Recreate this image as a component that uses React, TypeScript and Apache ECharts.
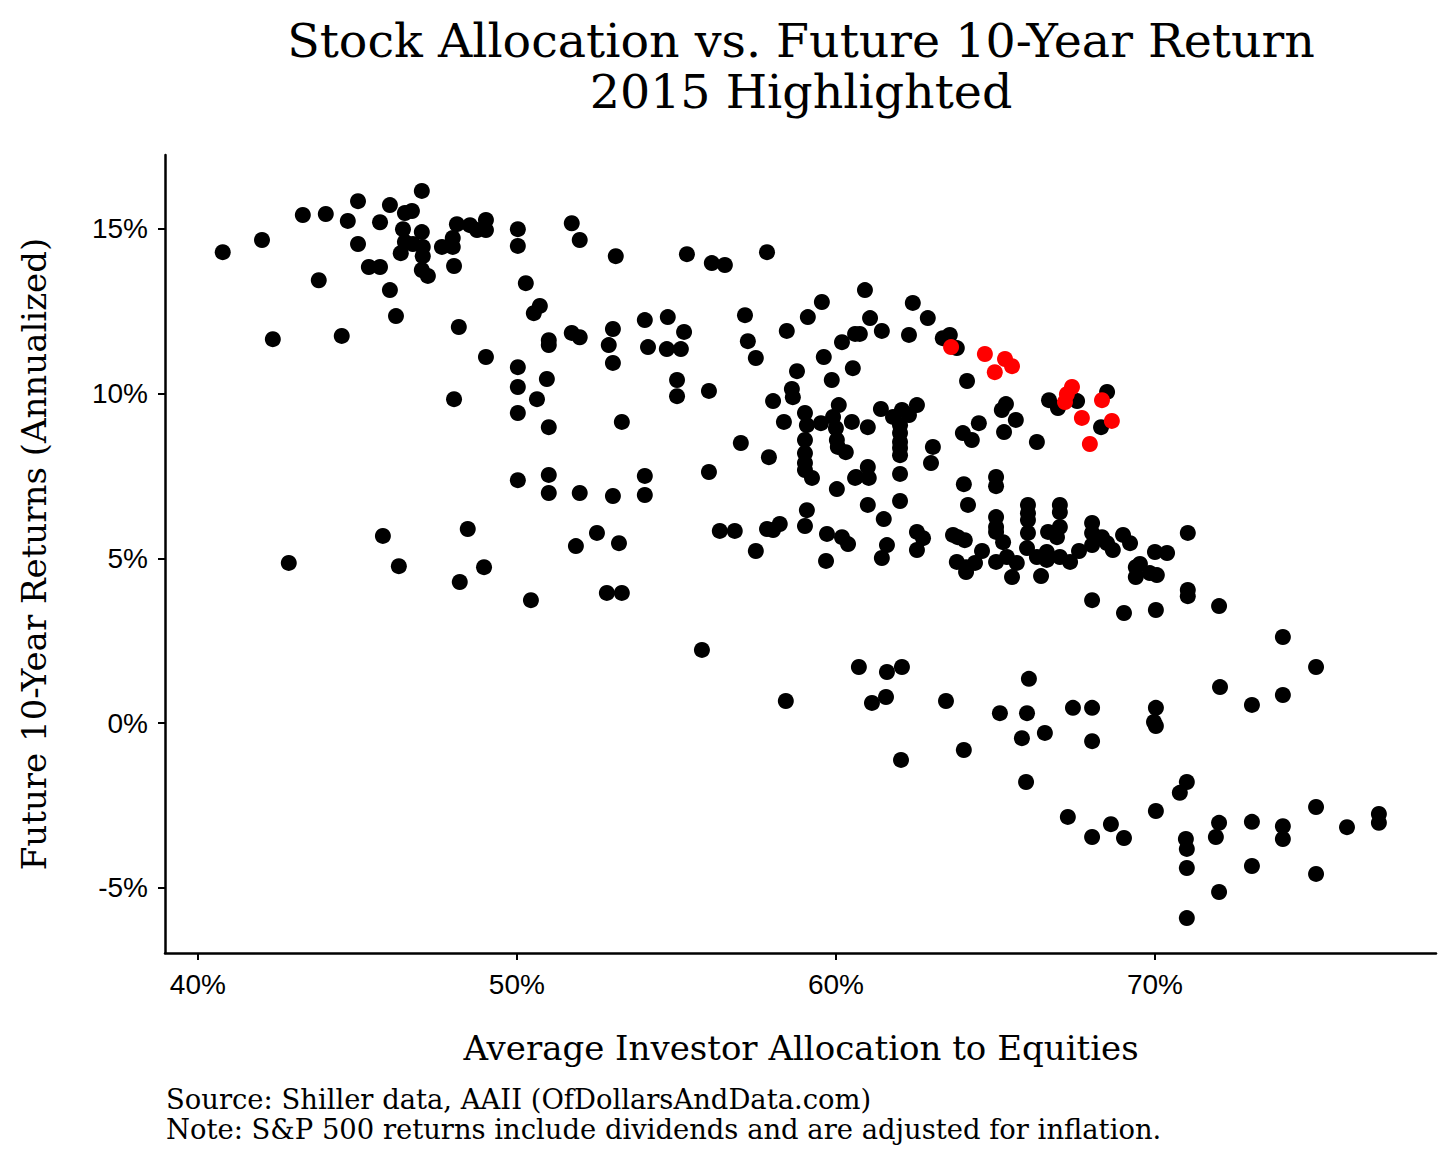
import React, { useEffect, useRef } from "react";
import * as echarts from "echarts";

const titleLines = ["Stock Allocation vs. Future 10-Year Return", "2015 Highlighted"];
const xAxisTitle = "Average Investor Allocation to Equities";
const yAxisTitle = "Future 10-Year Returns (Annualized)";
const captionLines = [
  "Source: Shiller data, AAII (OfDollarsAndData.com)",
  "Note: S&P 500 returns include dividends and are adjusted for inflation.",
];
const xTicks = [40, 50, 60, 70];
const yTicks = [-5, 0, 5, 10, 15];

// [allocation to equities %, future 10-year annualized return %]
const otherYears: [number, number][] = [
  [40.78, 14.29], [42.01, 14.66], [43.29, 15.42], [44.01, 15.45], [45.02, 15.84], [44.7, 15.24],
  [45.71, 15.2], [46.02, 15.72], [47.02, 16.15], [46.49, 15.48], [46.71, 15.54], [46.43, 14.99],
  [47.02, 14.9], [46.49, 14.6], [46.74, 14.54], [46.36, 14.26], [47.05, 14.45], [47.05, 14.17],
  [47.02, 13.75], [47.21, 13.57], [48.12, 15.14], [48.53, 15.11], [48.75, 14.96], [49.03, 15.27],
  [49.03, 14.96], [47.65, 14.45], [47.99, 14.72], [47.99, 14.45], [48.03, 13.87], [45.02, 14.54],
  [45.36, 13.84], [45.71, 13.84], [46.02, 13.14], [46.21, 12.35], [43.79, 13.44], [42.35, 11.65],
  [44.51, 11.75], [48.18, 12.02], [49.03, 11.11], [50.03, 14.99], [50.03, 14.48], [51.72, 15.17],
  [51.97, 14.66], [50.28, 13.35], [50.72, 12.66], [50.53, 12.44], [51.0, 11.62], [51.0, 11.47],
  [51.72, 11.84], [51.97, 11.71], [50.03, 10.8], [50.94, 10.44], [50.03, 10.2], [50.63, 9.83],
  [48.03, 9.83], [50.03, 9.41], [51.0, 8.98], [53.1, 14.17], [55.33, 14.23], [56.11, 13.96],
  [56.52, 13.9], [57.84, 14.29], [60.91, 13.14], [59.56, 12.78], [62.41, 12.75], [62.88, 12.29],
  [61.07, 12.29], [59.12, 12.32], [57.15, 12.38], [58.46, 11.9], [61.44, 11.9], [60.6, 11.81],
  [60.75, 11.81], [60.19, 11.56], [62.29, 11.78], [63.35, 11.68], [63.57, 11.78], [63.79, 11.38],
  [53.01, 11.96], [52.88, 11.47], [53.01, 10.93], [54.01, 12.23], [54.73, 12.32], [55.24, 11.87],
  [54.11, 11.41], [54.7, 11.35], [55.14, 11.35], [57.24, 11.59], [57.49, 11.08], [55.02, 10.41],
  [55.02, 9.92], [56.02, 10.08], [59.62, 11.11], [60.53, 10.77], [58.78, 10.68], [59.87, 10.41],
  [58.62, 10.14], [58.65, 9.89], [58.03, 9.77], [60.09, 9.65], [59.03, 9.41], [58.37, 9.14],
  [59.09, 9.04], [59.53, 9.1], [59.91, 9.29], [60.0, 8.95], [60.5, 9.14], [61.0, 8.98],
  [61.41, 9.53], [62.07, 9.5], [62.29, 9.35], [62.54, 9.65], [61.79, 9.29], [62.01, 9.04],
  [64.11, 10.38], [53.29, 9.14], [64.48, 9.1], [63.98, 8.8], [65.33, 9.68], [65.2, 9.5],
  [65.64, 9.2], [65.27, 8.83], [64.26, 8.59], [66.3, 8.53], [66.68, 9.8], [66.96, 9.56],
  [67.56, 9.77], [68.5, 10.05], [68.31, 8.98], [51.0, 7.53], [50.03, 7.37], [51.0, 6.98],
  [51.97, 6.98], [48.46, 5.89], [45.8, 5.68], [42.85, 4.86], [46.3, 4.76], [48.97, 4.73],
  [48.21, 4.28], [50.44, 3.73], [51.85, 5.37], [57.02, 8.5], [57.9, 8.07], [56.02, 7.62],
  [54.01, 7.5], [53.01, 6.89], [54.01, 6.92], [52.51, 5.77], [53.2, 5.46], [52.82, 3.95],
  [53.29, 3.95], [56.36, 5.83], [56.83, 5.83], [57.49, 5.22], [57.84, 5.89], [58.03, 5.86],
  [58.24, 6.04], [59.09, 6.46], [59.03, 5.98], [59.72, 5.74], [60.19, 5.64], [60.38, 5.43],
  [59.69, 4.92], [59.03, 8.59], [59.03, 8.19], [59.03, 7.89], [59.03, 7.68], [59.25, 7.44],
  [60.03, 8.59], [60.06, 8.38], [60.31, 8.22], [60.63, 7.47], [60.03, 7.1], [62.01, 8.8],
  [62.01, 8.53], [62.01, 8.35], [62.01, 8.13], [62.01, 7.56], [62.01, 6.74], [63.04, 8.38],
  [62.98, 7.89], [61.0, 7.77], [61.03, 7.44], [60.6, 7.44], [61.0, 6.62], [61.5, 6.19],
  [61.6, 5.4], [61.44, 5.01], [62.54, 5.8], [62.73, 5.61], [62.54, 5.25], [64.01, 7.25],
  [65.02, 7.47], [65.02, 7.19], [64.14, 6.62], [65.02, 6.25], [65.02, 5.95], [65.02, 5.8],
  [65.24, 5.49], [63.67, 5.71], [63.82, 5.64], [64.04, 5.55], [64.58, 5.22], [63.79, 4.89],
  [64.08, 4.73], [64.36, 4.86], [64.08, 4.58], [65.02, 4.89], [65.36, 5.04], [65.67, 4.86],
  [65.52, 4.43], [66.43, 4.46], [66.02, 6.62], [66.02, 6.37], [66.02, 6.16], [66.02, 5.77],
  [65.99, 5.31], [66.3, 5.04], [66.61, 4.95], [66.61, 5.19], [66.65, 5.8], [66.93, 5.64],
  [67.02, 5.95], [67.02, 6.62], [67.02, 6.4], [67.02, 5.04], [67.34, 4.89], [67.62, 5.22],
  [68.03, 6.07], [68.03, 5.77], [68.34, 5.64], [68.5, 5.46], [68.68, 5.25], [68.03, 5.4],
  [69.0, 5.71], [69.22, 5.46], [69.4, 4.73], [69.4, 4.43], [68.03, 3.73], [69.03, 3.34],
  [71.03, 5.77], [70.0, 5.19], [70.38, 5.16], [69.53, 4.83], [69.84, 4.55], [70.06, 4.49],
  [71.03, 4.04], [71.03, 3.85], [70.03, 3.43], [72.01, 3.55], [74.01, 2.61], [55.8, 2.22],
  [58.43, 0.67], [60.72, 1.7], [61.6, 1.55], [62.07, 1.7], [61.57, 0.79], [61.13, 0.61],
  [63.45, 0.67], [65.14, 0.3], [62.04, -1.12], [64.01, -0.82], [75.05, 1.7], [72.04, 1.09],
  [73.04, 0.55], [74.01, 0.85], [66.05, 1.34], [65.99, 0.3], [65.83, -0.46], [66.55, -0.3],
  [67.43, 0.46], [68.03, 0.46], [68.03, -0.55], [70.03, 0.46], [69.97, 0.03], [70.03, -0.09],
  [65.96, -1.79], [67.27, -2.85], [68.03, -3.46], [68.62, -3.07], [69.03, -3.49], [70.03, -2.67],
  [71.0, -1.79], [70.78, -2.12], [70.97, -3.52], [71.0, -3.82], [71.0, -4.4], [71.0, -5.92],
  [72.01, -3.03], [71.91, -3.46], [73.04, -3.0], [73.04, -4.34], [72.01, -5.13], [74.01, -3.13],
  [74.01, -3.52], [75.05, -2.55], [75.05, -4.58], [76.02, -3.16], [77.02, -2.76], [77.02, -3.03],
];

const year2015: [number, number][] = [
  [63.61, 11.41], [64.67, 11.2], [65.3, 11.05], [65.52, 10.83], [64.98, 10.65], [67.4, 10.2],
  [67.24, 9.98], [67.18, 9.74], [68.34, 9.8], [67.71, 9.26], [68.65, 9.17], [67.96, 8.47],
];

const SERIF = "'DejaVu Serif', 'Liberation Serif', serif";
const SANS = "'Liberation Sans', Arial, sans-serif";

function textEl(text: string, x: number, y: number, size: number, align: string, rotation = 0) {
  return {
    type: "text",
    x,
    y,
    rotation,
    style: {
      text,
      font: `${size}px ${SERIF}`,
      fill: "#000",
      align,
      verticalAlign: "middle",
      textAlign: align,
      textVerticalAlign: "middle",
    },
  };
}

export default function App() {
  const ref = useRef<HTMLDivElement>(null);

  useEffect(() => {
    if (!ref.current) return;
    const chart = echarts.init(ref.current, null, { renderer: "svg" });
    chart.setOption({
      animation: false,
      backgroundColor: "#ffffff",
      grid: { left: 165, top: 155, right: 20, bottom: 212, containLabel: false },
      graphic: [
        textEl(titleLines[0], 801, 40, 47.5, "center"),
        textEl(titleLines[1], 801, 91, 47.5, "center"),
        textEl(xAxisTitle, 801, 1048, 34, "center"),
        textEl(yAxisTitle, 34, 554, 34, "center", Math.PI / 2),
        textEl(captionLines[0], 166, 1099, 27.4, "left"),
        textEl(captionLines[1], 166, 1129, 27.4, "left"),
      ],
      xAxis: {
        type: "value",
        min: 38.97,
        max: 78.81,
        axisLine: { show: true, onZero: false, lineStyle: { color: "#000", width: 2.5 } },
        axisTick: {
          show: true,
          length: 7,
          customValues: xTicks,
          lineStyle: { color: "#000", width: 2 },
        },
        axisLabel: {
          show: true,
          customValues: xTicks,
          formatter: (v: number) => `${v}%`,
          fontFamily: SANS,
          fontSize: 28,
          color: "#000",
          margin: 17,
        },
        splitLine: { show: false },
      },
      yAxis: {
        type: "value",
        min: -6.98,
        max: 17.24,
        axisLine: { show: true, onZero: false, lineStyle: { color: "#000", width: 2.5 } },
        axisTick: {
          show: true,
          length: 7,
          customValues: yTicks,
          lineStyle: { color: "#000", width: 2 },
        },
        axisLabel: {
          show: true,
          customValues: yTicks,
          formatter: (v: number) => `${v}%`,
          fontFamily: SANS,
          fontSize: 28,
          color: "#000",
          margin: 17,
        },
        splitLine: { show: false },
      },
      series: [
        {
          type: "scatter",
          name: "Other years",
          data: otherYears,
          symbol: "circle",
          symbolSize: 16,
          itemStyle: { color: "#000000", opacity: 1 },
          z: 2,
        },
        {
          type: "scatter",
          name: "2015",
          data: year2015,
          symbol: "circle",
          symbolSize: 16,
          itemStyle: { color: "#ff0000", opacity: 1 },
          z: 3,
        },
      ],
    });
    return () => chart.dispose();
  }, []);

  return (
    <div
      ref={ref}
      style={{ position: "fixed", left: 0, top: 0, width: 1456, height: 1165, background: "#fff" }}
    />
  );
}
